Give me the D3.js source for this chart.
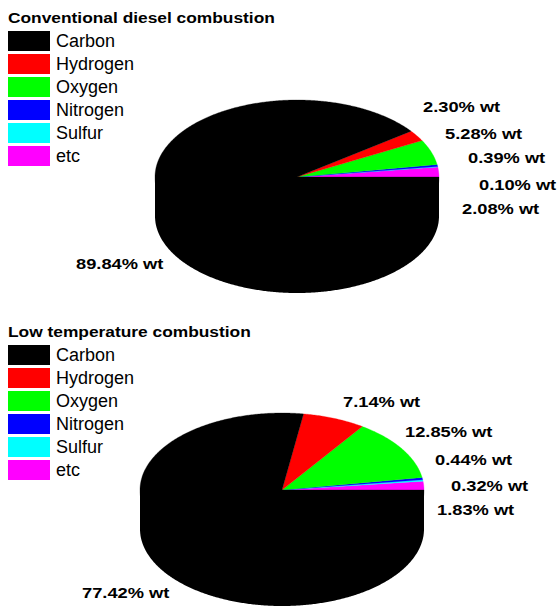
<!DOCTYPE html>
<html>
<head>
<meta charset="utf-8">
<script src="https://cdn.jsdelivr.net/npm/d3@7"></script>
<style>
  body { margin: 0; background: #fff; }
  svg { display: block; font-family: "Liberation Sans", Arial, sans-serif; }
</style>
</head>
<body>
<div id="chart"></div>
<script>
// =========================
// DATA
// =========================
const elements = ["Carbon", "Hydrogen", "Oxygen", "Nitrogen", "Sulfur", "etc"];
const colors = ["#000000", "#ff0000", "#00ff00", "#0000ff", "#00ffff", "#ff00ff"];

const titles = ["Conventional diesel combustion", "Low temperature combustion"];
const dieselValues = [89.84, 2.30, 5.28, 0.39, 0.10, 2.08];
const ltcValues = [77.42, 7.14, 12.85, 0.44, 0.32, 1.83];

// label offsets from the pie centre (layout only), same order as elements
const dieselLabelPos = [[-221, 92], [126, -65], [148, -38], [171, -14], [182, 13], [165, 37]];
const ltcLabelPos = [[-200, 108], [61, -83], [123, -53], [153, -25], [169, 1], [155, 25]];

const W = 559, H = 607;

const svg = d3.select("#chart")
    .append("svg")
    .attr("width", W)
    .attr("height", H);

const color = d3.scaleOrdinal().domain(elements).range(colors);

function drawPanel(opts) {
    const { title, values, labelPos, top, cx, cy } = opts;
    const rx = 142, ry = 77, depth = 39;

    const g = svg.append("g");

    // title
    g.append("text")
        .attr("transform", `translate(8,${top}) scale(1.12,1)`)
        .style("font-size", "15.5px")
        .style("font-weight", "bold")
        .text(title);

    // legend
    elements.forEach((el, i) => {
        const row = g.append("g")
            .attr("transform", `translate(8, ${top + 8 + i * 23})`);
        row.append("rect")
            .attr("width", 42)
            .attr("height", 20)
            .attr("fill", color(el));
        row.append("text")
            .attr("x", 48)
            .attr("y", 16)
            .style("font-size", "18px")
            .text(el);
    });

    // pie angles: counter-clockwise from 3 o'clock, etc first, carbon last
    const rows = elements.map((el, i) => ({ el, value: values[i], pos: labelPos[i] }));
    const arcs = d3.pie()
        .sort(null)
        .value(d => d.value)
        .startAngle(0)
        .endAngle(2 * Math.PI)(rows.slice().reverse());

    const pt = (a, dy = 0) => [cx + rx * Math.cos(a), cy - ry * Math.sin(a) + dy];
    const sample = (a0, a1) => {
        const n = Math.max(2, Math.ceil(Math.abs(a1 - a0) / 0.01));
        return d3.range(n + 1).map(k => a0 + (a1 - a0) * k / n);
    };
    const line = d3.line();

    // side walls (front half: angles PI..2PI); each piece also covers the
    // sector back to the centre so no seam shows under the top face
    arcs.forEach(d => {
        const a0 = Math.max(d.startAngle, Math.PI);
        const a1 = Math.min(d.endAngle, 2 * Math.PI);
        if (a1 <= a0) return;
        const pts = [[cx, cy], pt(a0)]
            .concat(sample(a0, a1).map(a => pt(a, depth)))
            .concat([pt(a1)]);
        g.append("path")
            .attr("d", line(pts) + "Z")
            .attr("fill", color(d.data.el));
    });

    // top faces
    arcs.forEach(d => {
        const pts = [[cx, cy]].concat(sample(d.startAngle, d.endAngle).map(a => pt(a)));
        g.append("path")
            .attr("d", line(pts) + "Z")
            .attr("fill", color(d.data.el))
            .attr("stroke", color(d.data.el))
            .attr("stroke-width", 0.3);
    });

    // value labels
    rows.forEach(d => {
        g.append("text")
            .attr("transform", `translate(${cx + d.pos[0]},${cy + d.pos[1]}) scale(1.18,1)`)
            .style("font-size", "15.5px")
            .style("font-weight", "bold")
            .text(`${d.value.toFixed(2)}% wt`);
    });
}

drawPanel({ title: titles[0], values: dieselValues, labelPos: dieselLabelPos, top: 23, cx: 297, cy: 177 });
drawPanel({ title: titles[1], values: ltcValues, labelPos: ltcLabelPos, top: 337, cx: 282, cy: 490 });
</script>
</body>
</html>
